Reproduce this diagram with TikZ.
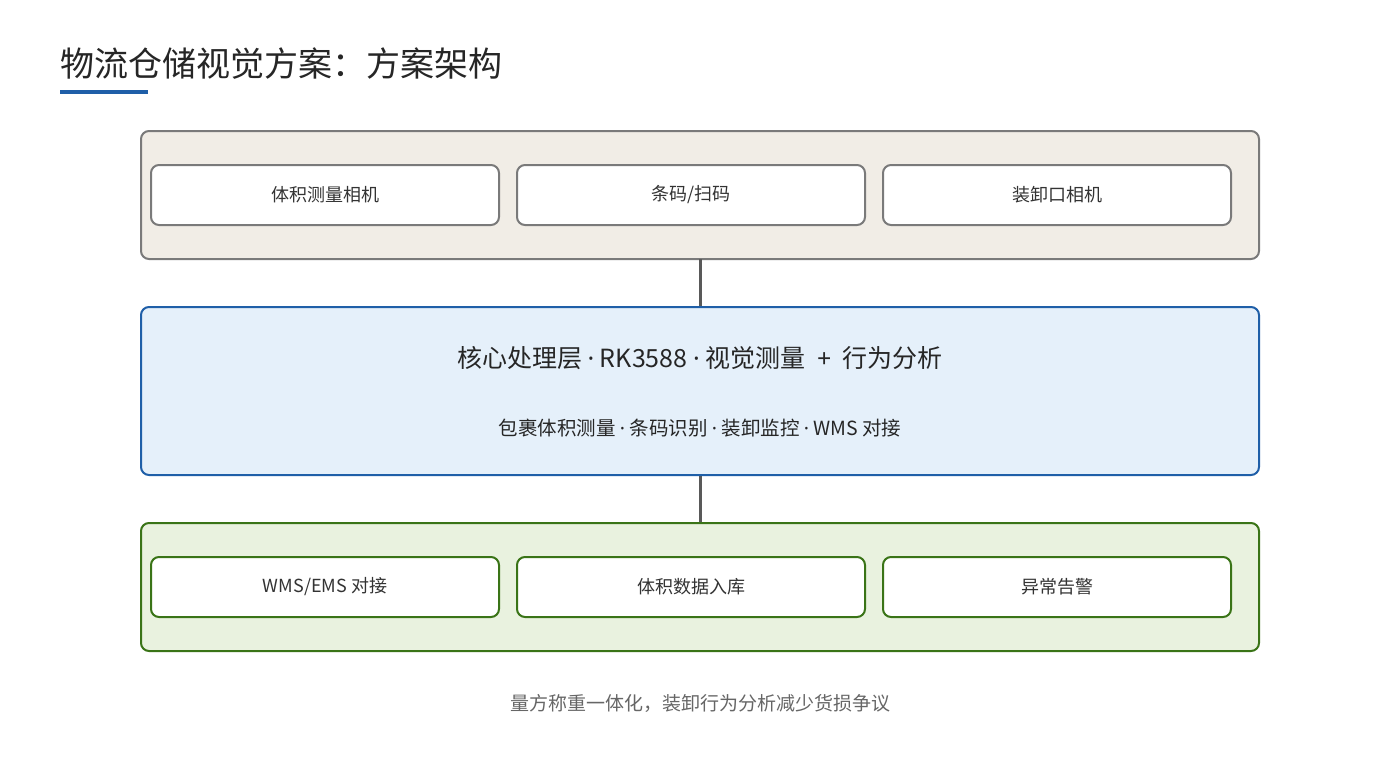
\documentclass[tikz,border=0pt]{standalone}
\usepackage{fontspec}
\setmainfont{Noto Sans CJK SC}
\newfontfamily\latinf{Noto Sans}
\newcommand{\mdt}{{\latinf ·}}
\begin{document}
\begin{tikzpicture}[x=1pt,y=-1pt,
  outer/.style={rounded corners=8pt,line width=2pt},
  inner/.style={rounded corners=8pt,line width=2pt,fill=white,minimum width=348pt,minimum height=60pt,font=\fontsize{18}{20}\selectfont,text=black!80},
  conn/.style={line width=3pt,draw=black!65}]
\definecolor{topfill}{HTML}{F1EDE6}\definecolor{topline}{HTML}{7A7A7A}
\definecolor{midfill}{HTML}{E5F0FA}\definecolor{midline}{HTML}{1F5FA8}
\definecolor{botfill}{HTML}{E9F2DF}\definecolor{botline}{HTML}{3A7417}
\useasboundingbox (0,0) rectangle (1400,760);
\fill[white] (0,0) rectangle (1400,760);
\node[anchor=west,font=\fontsize{34}{38}\selectfont,text=black!85] (title) at (57,64) {物流仓储视觉方案：方案架构};
\fill[midline] (60,90) rectangle (148,94);
\draw[outer,fill=topfill,draw=topline] (141,131) rectangle (1259,259);
\node[inner,draw=topline] (t1) at (325,195) {体积测量相机};
\node[inner,draw=topline] (t2) at (691,195) {条码/扫码};
\node[inner,draw=topline] (t3) at (1057,195) {装卸口相机};
\coordinate (topb) at (700,259);
\coordinate (midt) at (700,307);
\coordinate (midb) at (700,475);
\coordinate (bott) at (700,523);
\draw[conn] (topb) -- (midt);
\draw[conn] (midb) -- (bott);
\draw[outer,fill=midfill,draw=midline] (141,307) rectangle (1259,475);
\node[font=\fontsize{25}{28}\selectfont,text=black!85] (m1) at (700,358) {核心处理层 \mdt{} RK3588 \mdt{} 视觉测量\hspace{6pt} {\latinf +}\hspace{6pt} 行为分析};
\node[font=\fontsize{19.5}{22}\selectfont,text=black!85] (m2) at (700,428) {包裹体积测量 \mdt{} 条码识别 \mdt{} 装卸监控 \mdt{} WMS 对接};
\draw[outer,fill=botfill,draw=botline] (141,523) rectangle (1259,651);
\node[inner,draw=botline] (b1) at (325,587) {WMS/EMS 对接};
\node[inner,draw=botline] (b2) at (691,587) {体积数据入库};
\node[inner,draw=botline] (b3) at (1057,587) {异常告警};
\node[font=\fontsize{19}{21}\selectfont,text=black!60] (foot) at (700,703) {量方称重一体化，装卸行为分析减少货损争议};
\end{tikzpicture}
\end{document}
